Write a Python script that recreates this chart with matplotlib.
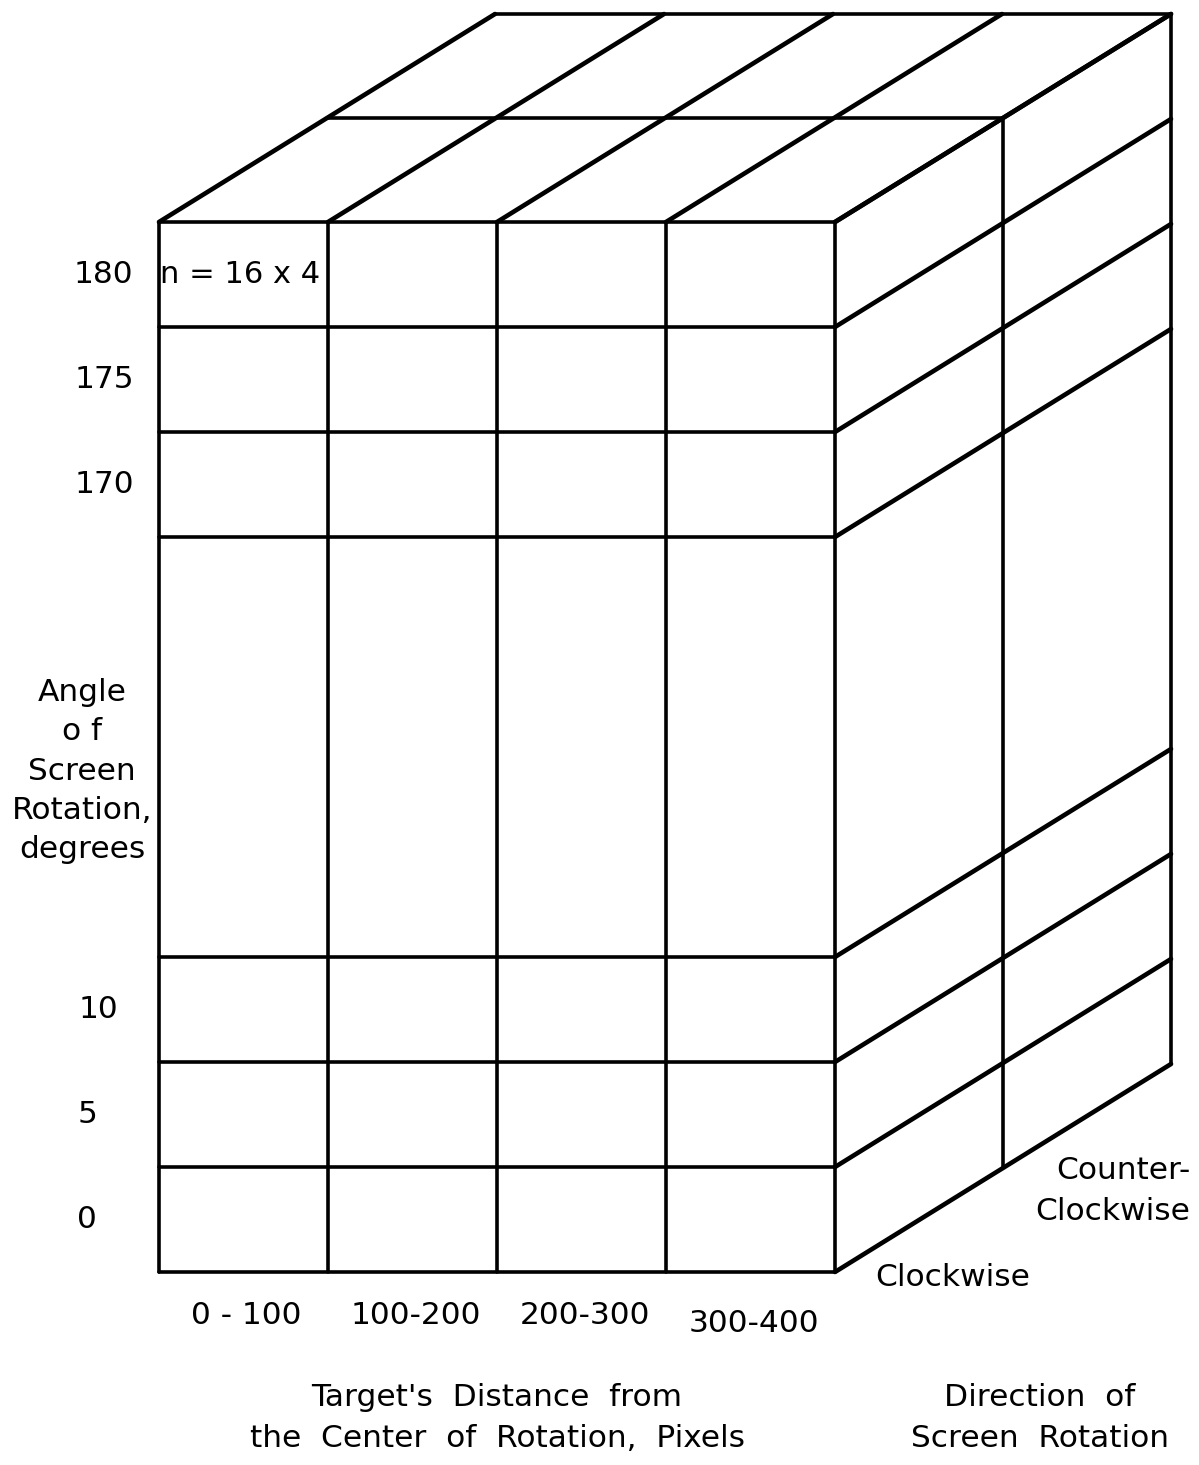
import matplotlib
matplotlib.use("Agg")
import matplotlib.pyplot as plt

# design factors of the experiment
distance_bins = ["0 - 100", "100-200", "200-300", "300-400"]
angle_top = ["180", "175", "170"]
angle_bottom = ["10", "5", "0"]
directions = ["Clockwise", "Counter-\nClockwise"]
cell_note = "n = 16 x 4"

plt.rcParams["font.family"] = ["DejaVu Sans"]
FS = 22.5
LS = 1.55

fig = plt.figure(figsize=(11.99, 14.65), dpi=100)
ax = fig.add_axes([0, 0, 1, 1])
ax.set_xlim(0, 1199)
ax.set_ylim(1465, 0)
ax.axis("off")

# front face geometry (pixels)
x0, cw = 159, 169
ytop, rh = 222, 105
gap_rows = 4
dx, dy = 168, -104  # offset per depth level

ncol = len(distance_bins)
ndep = len(directions)
col_x = [x0 + i * cw for i in range(ncol + 1)]
rows_top = [ytop + i * rh for i in range(len(angle_top) + 1)]
y_gap_end = rows_top[-1] + gap_rows * rh
rows_bot = [y_gap_end + i * rh for i in range(len(angle_bottom) + 1)]
row_y = rows_top + rows_bot
ybot = rows_bot[-1]
xr = col_x[-1]

kw = dict(color="black", lw=2.6, solid_capstyle="round")
kd = dict(color="black", lw=3.3, solid_capstyle="round")

# front face
for x in col_x:
    ax.plot([x, x], [ytop, ybot], **kw)
for y in row_y:
    ax.plot([col_x[0], xr], [y, y], **kw)

# top face
for x in col_x:
    ax.plot([x, x + ndep * dx], [ytop, ytop + ndep * dy], **kd)
for d in range(1, ndep + 1):
    ax.plot([col_x[0] + d * dx, xr + d * dx], [ytop + d * dy, ytop + d * dy], **kw)

# right side face
for d in range(1, ndep + 1):
    ax.plot([xr + d * dx, xr + d * dx], [ytop + d * dy, ybot + d * dy], **kw)
for y in row_y:
    ax.plot([xr, xr + ndep * dx], [y, y + ndep * dy], **kd)

# cell annotation
ax.text(col_x[0] + 1, (rows_top[0] + rows_top[1]) / 2, cell_note,
        fontsize=FS - 0.5, ha="left", va="center")

# angle labels
lab_x_top = [103, 104, 104]
for lab, y0, y1, lx in zip(angle_top, rows_top[:-1], rows_top[1:], lab_x_top):
    ax.text(lx, (y0 + y1) / 2, lab, fontsize=FS, ha="center", va="center")
lab_x_bot = [98, 87, 87]
for lab, y0, y1, lx in zip(angle_bottom, rows_bot[:-1], rows_bot[1:], lab_x_bot):
    ax.text(lx, (y0 + y1) / 2, lab, fontsize=FS, ha="center", va="center")

ax.text(82, 771, "Angle\no f\nScreen\nRotation,\ndegrees", fontsize=FS,
        ha="center", va="center", linespacing=LS - 0.1)

# distance labels
lab_dy = [0, 0, 0, 8]
for i, lab in enumerate(distance_bins):
    ax.text((col_x[i] + col_x[i + 1]) / 2 + 3, ybot + 43 + lab_dy[i], lab,
            fontsize=FS, ha="center", va="center")
ax.text(497, 1418, "Target's  Distance  from\nthe  Center  of  Rotation,  Pixels",
        fontsize=FS, ha="center", va="center", linespacing=LS)

# direction labels
ax.text(875, ybot + 5, directions[0], fontsize=FS, ha="left", va="center")
ax.text(1190, 1191, directions[1], fontsize=FS, ha="right", va="center",
        linespacing=LS)
ax.text(1040, 1418, "Direction  of\nScreen  Rotation", fontsize=FS,
        ha="center", va="center", linespacing=LS)

fig.savefig("out.png", dpi=100)
